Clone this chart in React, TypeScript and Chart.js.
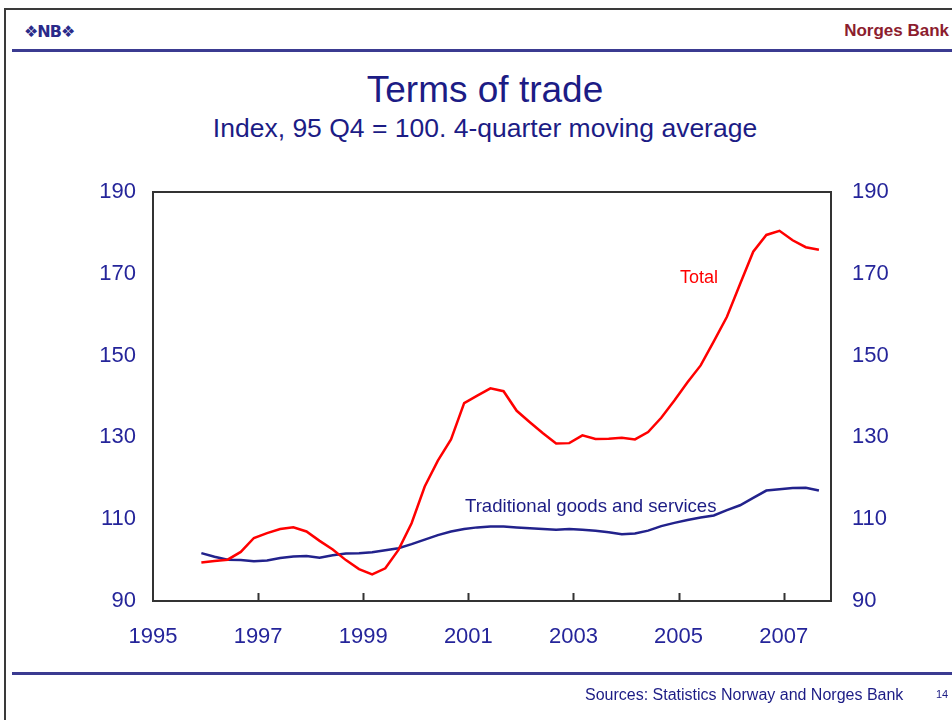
import React, { useEffect, useRef } from "react";
import { Chart, registerables } from "chart.js";

Chart.register(...registerables);

// Quarterly observations, 48 quarters (late 1995 to 2007)
const firstQuarterX = 1995.92;
const quarterStep = 0.25;

const totalSeries = [
  99.4, 99.8, 100.1, 102.0, 105.4, 106.6, 107.6, 108.0, 107.0, 104.7, 102.6, 100.0,
  97.8, 96.5, 98.0, 102.5, 109.0, 118.0, 124.3, 129.5, 138.4, 140.2, 142.0, 141.3,
  136.5, 133.7, 131.0, 128.5, 128.6, 130.5, 129.6, 129.7, 129.9, 129.5, 131.3, 134.8,
  139.0, 143.5, 147.6, 153.5, 159.5, 167.5, 175.4, 179.5, 180.5, 178.2, 176.5, 175.9,
];

const traditionalSeries = [
  101.7, 100.8, 100.1, 100.0, 99.7, 99.9, 100.5, 100.9, 101.0, 100.6, 101.2, 101.6,
  101.7, 101.9, 102.4, 102.9, 103.9, 105.0, 106.1, 107.0, 107.6, 108.0, 108.2, 108.2,
  108.0, 107.8, 107.6, 107.4, 107.6, 107.4, 107.2, 106.8, 106.3, 106.5, 107.2, 108.3,
  109.1, 109.8, 110.4, 110.9, 112.2, 113.4, 115.2, 117.0, 117.3, 117.6, 117.7, 117.0,
];

const xTickYears = [1995, 1997, 1999, 2001, 2003, 2005, 2007];
const innerTickYears = [1997, 1999, 2001, 2003, 2005, 2007];
const yTicks = [90, 110, 130, 150, 170, 190];

const seriesNames = ["Total", "Traditional goods and services"];

const NAVY = "#1c1c85";
const TICK_BLUE = "#25259a";
const RED = "#ff0000";
const LINE_BLUE = "#22228c";
const FONT = "'Liberation Sans', Arial, sans-serif";

const toPoints = (vals: number[]) =>
  vals.map((v, i) => ({ x: firstQuarterX + i * quarterStep, y: v }));

const frameAndTicksPlugin = {
  id: "frameAndTicks",
  afterDraw(chart: any) {
    const { ctx, chartArea } = chart;
    const xs = chart.scales.x;
    ctx.save();
    ctx.strokeStyle = "#333333";
    ctx.lineWidth = 2;
    ctx.strokeRect(
      chartArea.left,
      chartArea.top,
      chartArea.right - chartArea.left,
      chartArea.bottom - chartArea.top
    );
    ctx.beginPath();
    innerTickYears.forEach((yr) => {
      const px = Math.round(xs.getPixelForValue(yr)) + 0.5;
      ctx.moveTo(px, chartArea.bottom);
      ctx.lineTo(px, chartArea.bottom - 8);
    });
    ctx.stroke();
    ctx.restore();
  },
};

function TermsChart() {
  const ref = useRef<HTMLCanvasElement | null>(null);
  useEffect(() => {
    if (!ref.current) return;
    const tickFont = { family: FONT, size: 22 };
    const chart = new Chart(ref.current, {
      type: "line",
      data: {
        datasets: [
          {
            label: seriesNames[0],
            data: toPoints(totalSeries),
            borderColor: RED,
            borderWidth: 2.5,
            pointRadius: 0,
            tension: 0,
            yAxisID: "y",
          },
          {
            label: seriesNames[1],
            data: toPoints(traditionalSeries),
            borderColor: LINE_BLUE,
            borderWidth: 2.5,
            pointRadius: 0,
            tension: 0,
            yAxisID: "y",
          },
        ],
      },
      options: {
        animation: false,
        responsive: false,
        maintainAspectRatio: false,
        layout: { padding: { left: 0, right: 0, top: 192, bottom: 50 } },
        plugins: {
          legend: { display: false },
          tooltip: { enabled: false },
          title: { display: false },
        },
        scales: {
          x: {
            type: "linear",
            min: 1995,
            max: 2007.9,
            grid: { display: false, drawTicks: false },
            border: { display: false },
            afterBuildTicks: (s: any) => {
              s.ticks = xTickYears.map((v) => ({ value: v }));
            },
            afterFit: (s: any) => {
              s.height = 69;
            },
            ticks: {
              color: TICK_BLUE,
              font: tickFont,
              padding: 23,
              maxRotation: 0,
              autoSkip: false,
              callback: (v: any) => String(v),
            },
          },
          y: {
            type: "linear",
            position: "left",
            min: 90,
            max: 190,
            grid: { display: false, drawTicks: false },
            border: { display: false },
            afterBuildTicks: (s: any) => {
              s.ticks = yTicks.map((v) => ({ value: v }));
            },
            afterFit: (s: any) => {
              s.width = 153;
            },
            ticks: { color: TICK_BLUE, font: tickFont, padding: 17 },
          },
          y2: {
            type: "linear",
            position: "right",
            min: 90,
            max: 190,
            grid: { display: false, drawTicks: false },
            border: { display: false },
            afterBuildTicks: (s: any) => {
              s.ticks = yTicks.map((v) => ({ value: v }));
            },
            afterFit: (s: any) => {
              s.width = 121;
            },
            ticks: { color: TICK_BLUE, font: tickFont, padding: 21 },
          },
        },
      },
      plugins: [frameAndTicksPlugin],
    });
    return () => chart.destroy();
  }, []);
  return (
    <canvas
      ref={ref}
      width={952}
      height={720}
      style={{ position: "absolute", left: 0, top: 0, width: 952, height: 720 }}
    />
  );
}

export default function App() {
  const abs = (s: React.CSSProperties): React.CSSProperties => ({
    position: "absolute",
    whiteSpace: "nowrap",
    fontFamily: FONT,
    ...s,
  });
  return (
    <div
      style={{
        position: "fixed",
        left: 0,
        top: 0,
        width: 952,
        height: 720,
        background: "#ffffff",
        overflow: "hidden",
      }}
    >
      {/* page frame */}
      <div style={abs({ left: 4, top: 8, width: 2, height: 712, background: "#3a3a3a" })} />
      <div style={abs({ left: 4, top: 8, width: 948, height: 2, background: "#3a3a3a" })} />
      {/* header */}
      <div
        style={abs({
          left: 24,
          top: 22,
          fontSize: 16,
          fontWeight: "bold",
          color: "#2a2a8a",
          fontFamily: "'DejaVu Sans', sans-serif",
          letterSpacing: -1,
        })}
      >
        ❖NB❖
      </div>
      <div
        style={abs({
          right: 3,
          top: 21,
          fontSize: 17,
          fontWeight: "bold",
          color: "#8c1d2e",
          fontFamily: "'Liberation Sans Narrow', 'Arial Narrow', 'Liberation Sans', sans-serif",
        })}
      >
        Norges Bank
      </div>
      <div style={abs({ left: 12, top: 49, width: 940, height: 3, background: "#3b3b91" })} />
      {/* titles */}
      <div style={abs({ left: 0, width: 970, top: 69, textAlign: "center", fontSize: 37, color: NAVY })}>
        Terms of trade
      </div>
      <div style={abs({ left: 0, width: 970, top: 113, textAlign: "center", fontSize: 26.5, color: NAVY })}>
        Index, 95 Q4 = 100. 4-quarter moving average
      </div>
      <TermsChart />
      {/* series labels */}
      <div style={abs({ left: 680, top: 267, fontSize: 18, color: RED })}>{seriesNames[0]}</div>
      <div style={abs({ left: 465, top: 495, fontSize: 18.6, color: NAVY })}>{seriesNames[1]}</div>
      {/* footer */}
      <div style={abs({ left: 12, top: 672, width: 940, height: 3, background: "#3b3b91" })} />
      <div style={abs({ left: 585, top: 686, fontSize: 16, color: NAVY })}>
        Sources: Statistics Norway and Norges Bank
      </div>
      <div style={abs({ left: 936, top: 688, fontSize: 11, color: NAVY })}>14</div>
    </div>
  );
}
